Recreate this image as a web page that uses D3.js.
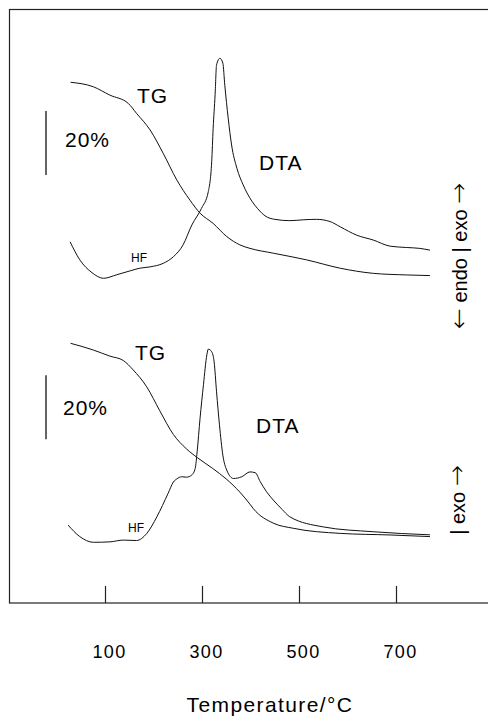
<!DOCTYPE html>
<html>
<head>
<meta charset="utf-8">
<script src="https://cdn.jsdelivr.net/npm/d3@7"></script>
<style>
  html, body { margin: 0; padding: 0; background: #fff; }
  text { font-family: "Liberation Sans", Arial, sans-serif; fill: #000; }
  .arrow { font-family: "DejaVu Sans", sans-serif; font-weight: 200; }
</style>
</head>
<body>
<div id="chart"></div>
<script>
// set variables
var width = 488,
    height = 716;

// x axis ticks (temperature, °C)
var tempTicks = [100, 300, 500, 700];

// upper sample: TG (mass %) and DTA (arbitrary units)
var tgTopT    = [29, 76, 110, 148, 165, 193, 220, 248, 275, 296, 323, 351, 378, 399, 447, 516, 585, 653, 722, 770];
var tgTopMass = [100, 98.6, 96.0, 93.4, 90.3, 85.1, 77.8, 69.5, 63.2, 59.1, 55.9, 51.8, 49.2, 48.1, 46.6, 44.5, 41.9, 40.3, 39.8, 39.6];

var dtaTopT = [28, 48, 73, 97, 124, 152, 172, 193, 220, 241, 261, 279, 299, 313, 320, 323, 327, 330, 337, 343, 347, 354, 361, 372, 385, 403, 415, 430, 450, 481, 510, 536, 564, 585, 619, 653, 688, 722, 749, 770];
var dtaTopV = [8.3, 4.2, 1.3, 0, 0.8, 1.7, 2.3, 2.6, 3.4, 4.9, 7.6, 12.1, 15.9, 19.7, 26.5, 34.1, 41.7, 48.5, 50.0, 48.9, 43.9, 36.4, 30.3, 25.0, 21.2, 17.5, 15.8, 14.2, 13.4, 13.1, 13.3, 13.4, 12.9, 11.7, 9.8, 8.7, 7.3, 7.0, 6.8, 6.4];

// lower sample
var tgBotT    = [29, 76, 110, 138, 158, 186, 213, 241, 268, 291, 322, 350, 378, 399, 406, 447, 488, 585, 688, 770];
var tgBotMass = [100, 97.9, 96.0, 94.6, 91.7, 86.4, 78.9, 71.5, 67.0, 64.2, 60.9, 57.6, 53.5, 49.7, 48.3, 43.8, 42.2, 40.6, 40.1, 39.6];

var dtaBotT = [24, 48, 76, 110, 138, 165, 186, 207, 230, 241, 248, 258, 268, 279, 286, 290, 296, 303, 310, 313, 320, 325, 330, 336, 343, 351, 365, 382, 399, 410, 420, 433, 447, 465, 481, 550, 653, 770];
var dtaBotV = [3.9, 1.3, 0, 0.1, 0.5, 0.4, 2.0, 5.8, 11.1, 13.7, 14.4, 14.9, 14.8, 15.3, 16.8, 20.6, 28.2, 35.8, 42.6, 43.9, 43.3, 41.0, 34.2, 26.7, 19.8, 16.4, 14.5, 14.9, 16.0, 15.8, 13.8, 11.5, 9.6, 7.5, 5.8, 3.5, 2.4, 1.7];

var svg = d3.select("#chart").append("svg")
  .attr("width", width)
  .attr("height", height);

var x = d3.scaleLinear().domain([100, 700]).range([105, 396]);

// frame (open on the right)
svg.append("rect")
  .attr("x", 9.5).attr("y", 9.5)
  .attr("width", 520).attr("height", 593.5)
  .attr("fill", "none")
  .attr("stroke", "#222")
  .attr("stroke-width", 1.2);

// x axis with inward ticks
var axis = svg.append("g")
  .attr("transform", "translate(0,603)")
  .call(d3.axisBottom(x).tickValues(tempTicks).tickSize(-17).tickPadding(42));
axis.select(".domain").remove();
axis.selectAll(".tick line").attr("stroke", "#222").attr("stroke-width", 1.2);
axis.selectAll(".tick text")
  .attr("dx", 4)
  .style("font-size", "18px")
  .style("letter-spacing", "1.4px")
  .style("font-family", "'Liberation Sans', Arial, sans-serif")
  .attr("fill", "#000");

svg.append("text")
  .attr("x", 270).attr("y", 712)
  .attr("text-anchor", "middle")
  .style("font-size", "21px")
  .style("letter-spacing", "1.4px")
  .text("Temperature/°C");

// one panel = TG + DTA curves with labels
function panel(p) {
  var yTg = d3.scaleLinear().domain([100, 40]).range(p.tgRange);
  var yDta = d3.scaleLinear().domain([0, 50]).range(p.dtaRange);
  var g = svg.append("g");

  var tgLine = d3.line()
    .x(function(d) { return x(d[0]); })
    .y(function(d) { return yTg(d[1]); })
    .curve(d3.curveMonotoneX);
  var dtaLine = d3.line()
    .x(function(d) { return x(d[0]); })
    .y(function(d) { return yDta(d[1]); })
    .curve(d3.curveMonotoneX);

  g.append("path")
    .attr("d", tgLine(d3.zip(p.tgT, p.tgM)))
    .attr("fill", "none").attr("stroke", "#111").attr("stroke-width", 1);
  g.append("path")
    .attr("d", dtaLine(d3.zip(p.dtaT, p.dtaV)))
    .attr("fill", "none").attr("stroke", "#111").attr("stroke-width", 1);

  // 20 % scale bar
  g.append("line")
    .attr("x1", 46).attr("x2", 46)
    .attr("y1", yTg(p.bar[0])).attr("y2", yTg(p.bar[1]))
    .attr("stroke", "#111").attr("stroke-width", 1.3);

  p.labels.forEach(function(l) {
    g.append("text")
      .attr("x", l[0]).attr("y", l[1])
      .style("font-size", l[3] + "px")
      .style("letter-spacing", l[3] > 14 ? "1px" : "0px")
      .attr("fill", l[3] > 14 ? "#000" : "#333")
      .text(l[2]);
  });

  // rotated endo / exo note, arrows drawn in DejaVu Sans
  var side = g.append("text")
    .attr("transform", "translate(" + p.side[0] + "," + p.side[1] + ") rotate(-90)")
    .attr("text-anchor", "middle")
    .style("font-size", "20px");
  p.side[2].forEach(function(s) {
    var t = side.append("tspan").text(s);
    if (s === "\u2190" || s === "\u2192") t.attr("class", "arrow").style("font-size", "25px");
  });
}

panel({
  tgT: tgTopT, tgM: tgTopMass, dtaT: dtaTopT, dtaV: dtaTopV,
  tgRange: [82.3, 274.3], dtaRange: [278.3, 58.3],
  bar: [91, 71],
  labels: [[137, 103, "TG", 21], [259, 170, "DTA", 21], [65, 147, "20%", 21], [131, 262, "HF", 12]],
  side: [467, 256, ["\u2190", " endo | exo ", "\u2192"]]
});

panel({
  tgT: tgBotT, tgM: tgBotMass, dtaT: dtaBotT, dtaV: dtaBotV,
  tgRange: [343.3, 535.3], dtaRange: [542.3, 322.3],
  bar: [90, 70],
  labels: [[135, 360, "TG", 21], [256, 433, "DTA", 21], [63, 415, "20%", 21], [128, 532, "HF", 12]],
  side: [465, 500, ["| exo ", "\u2192"]]
});
</script>
</body>
</html>
